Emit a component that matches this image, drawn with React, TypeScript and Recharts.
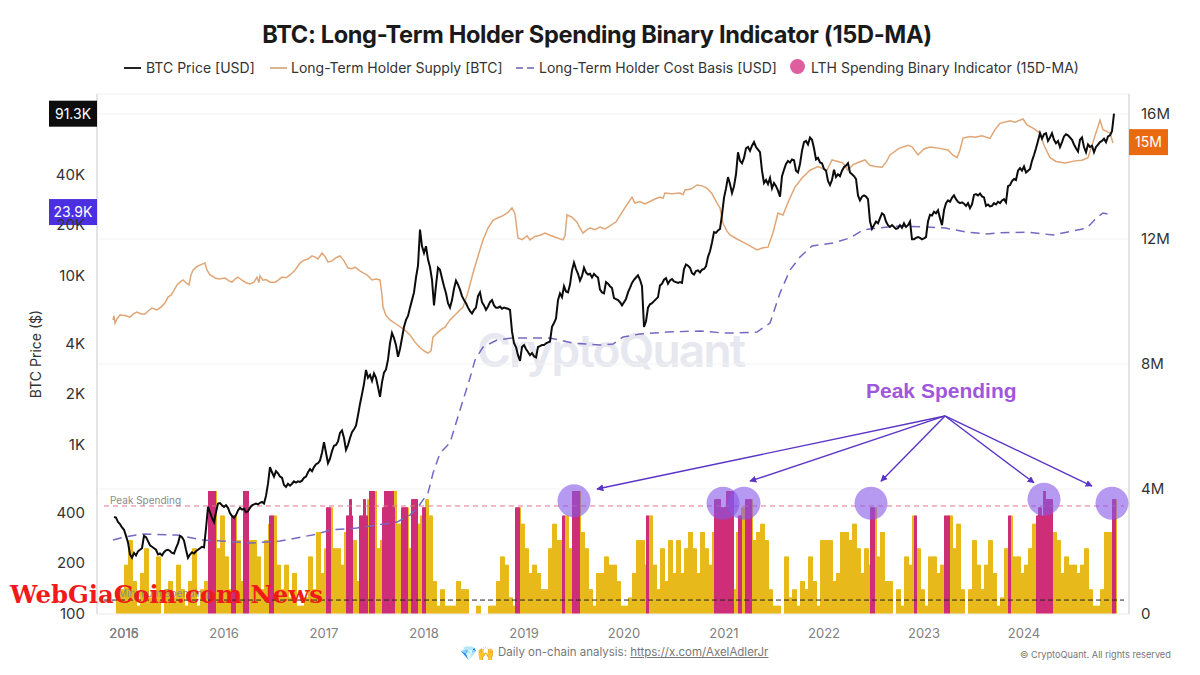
import React from 'react'
import {
  ComposedChart, Bar, Line, XAxis, YAxis, CartesianGrid, ReferenceLine, ReferenceDot,
} from 'recharts'

const FONT = 'Inter, "Noto Sans", sans-serif'

// weekly-ish BTC price, one reading every 0.02 year from 2014.90
const price2014 = [375, 372, 350, 340, 325]
const price2015 = [
  315, 290, 265, 225, 215, 230, 222, 235, 240, 245,
  290, 285, 270, 255, 250, 245, 240, 225, 228, 222,
  232, 238, 240, 236, 230, 228, 245, 262, 290, 285,
  272, 240, 215, 225, 232, 228, 235, 240, 245, 250,
  248, 320, 430, 400, 370, 350, 400, 450, 453, 440,
]
const price2016 = [
  430, 440, 425, 395, 380, 370, 385, 410, 425, 415,
  420, 400, 405, 425, 440, 445, 450, 445, 455, 460,
  450, 500, 590, 740, 690, 650, 700, 680, 650, 640,
  580, 565, 590, 575, 590, 610, 600, 610, 605, 615,
  640, 650, 690, 720, 700, 740, 770, 780, 810, 900,
]
const price2017 = [
  1040, 900, 780, 830, 920, 990, 1000, 1050, 1180, 1220,
  1100, 935, 1000, 1100, 1190, 1240, 1300, 1500, 1750, 2000,
  2300, 2780, 2500, 2600, 2400, 2650, 2500, 2200, 1930, 2350,
  2680, 2800, 3200, 4000, 4600, 4300, 3900, 3330, 3700, 4300,
  5000, 5500, 5800, 6500, 7200, 8000, 9800, 11500, 18800, 15000,
]
const price2018 = [
  13700, 15000, 12500, 11300, 9500, 6700, 8800, 11200, 10900, 9700,
  8700, 7900, 6900, 6500, 7200, 8400, 9400, 8900, 8300, 7600,
  7200, 6900, 6500, 6200, 6000, 6300, 6500, 7600, 8000, 7000,
  6700, 6300, 6600, 7000, 7200, 6700, 6500, 6500, 6600, 6400,
  6500, 6450, 6400, 6300, 4700, 4000, 3800, 3400, 3150, 3800,
]
const price2019 = [
  3900, 3700, 3550, 3400, 3500, 3350, 3300, 3800, 3850, 3900,
  3900, 4000, 4050, 4100, 5000, 5270, 5600, 7200, 7900, 7500,
  8700, 8100, 8000, 8900, 10800, 12000, 11000, 10300, 9400, 10000,
  11200, 10500, 10200, 10300, 9800, 10300, 10000, 9800, 8300, 8000,
  7900, 9200, 9000, 8700, 8500, 7400, 7300, 7200, 7000, 6700,
]
const price2020 = [
  7000, 7300, 8000, 8500, 9100, 9500, 9800, 10100, 9500, 8700,
  5000, 5400, 6500, 6800, 6900, 7100, 7300, 7500, 8800, 9000,
  9500, 9700, 9000, 9400, 9600, 9300, 9200, 9100, 9200, 9100,
  11000, 11700, 11500, 11200, 10400, 10200, 10700, 10800, 10500, 10900,
  11000, 11400, 13000, 14000, 15800, 18200, 18000, 18600, 19000, 23000,
]
const price2021 = [
  29000, 33000, 38500, 35000, 31000, 34000, 40000, 54000, 48000, 46500,
  50000, 57000, 58000, 55000, 59000, 62000, 58000, 56000, 54000, 42000,
  35500, 37000, 35000, 38000, 33000, 35500, 34000, 32000, 29500, 39000,
  42500, 46000, 48000, 47000, 49000, 48500, 42000, 41000, 46000, 55000,
  62000, 63000, 60000, 66000, 64000, 57000, 49000, 50000, 47000, 46500,
]
const price2022 = [
  43000, 42000, 36500, 34500, 37000, 42500, 38500, 40000, 39000, 42000,
  44000, 45000, 46500, 41000, 40000, 39000, 37500, 30000, 28000, 29500,
  30000, 29500, 28500, 21000, 19000, 20000, 21000, 20500, 22000, 23500,
  23000, 21000, 20000, 19500, 20000, 19500, 19000, 19200, 20000, 19300,
  20500, 19500, 20000, 21000, 16500, 16500, 16800, 17000, 16800, 16500,
]
const price2023 = [
  16700, 17000, 21000, 23000, 22800, 24000, 23500, 24500, 22000, 20000,
  24500, 27000, 28000, 27500, 29000, 30000, 28500, 27500, 27000, 27300,
  26800, 26000, 27000, 25200, 26500, 30200, 30500, 30000, 30800, 29600,
  29200, 26000, 26500, 25800, 26000, 27000, 26500, 27500, 27000, 28000,
  28500, 27300, 34000, 34500, 36500, 37500, 37000, 42000, 43500, 42000,
]
const price2024 = [
  44500, 41000, 42000, 43000, 48000, 52000, 57000, 63000, 70000, 65000,
  69000, 70000, 63000, 66000, 70000, 64000, 61000, 63000, 58000, 62000,
  67000, 69000, 68000, 66000, 64000, 60000, 57000, 54500, 64000, 66000,
  58000, 54000, 60000, 58000, 59000, 54000, 58000, 60000, 62000, 63000,
  65000, 62000, 67000, 68000, 72000, 91300,
]
const priceValues = [
  ...price2014, ...price2015, ...price2016, ...price2017, ...price2018, ...price2019,
  ...price2020, ...price2021, ...price2022, ...price2023, ...price2024,
]

// [year, supply in millions of BTC]
const supplySeries = [
  [2014.89, 9.41], [2014.9, 9.55], [2014.91, 9.31], [2014.93, 9.45], [2014.96, 9.57], [2015.01, 9.55], [2015.06, 9.5],
  [2015.1, 9.62], [2015.13, 9.66], [2015.17, 9.6], [2015.21, 9.6], [2015.25, 9.72], [2015.28, 9.79], [2015.33, 9.73],
  [2015.37, 9.82], [2015.41, 9.95], [2015.44, 10.14], [2015.47, 10.2], [2015.49, 10.3], [2015.53, 10.53], [2015.56, 10.62],
  [2015.59, 10.69], [2015.62, 10.6], [2015.65, 10.53], [2015.67, 10.85], [2015.69, 11.0], [2015.73, 11.12], [2015.77, 11.18],
  [2015.81, 11.23], [2015.83, 11.0], [2015.86, 10.85], [2015.89, 10.8], [2015.91, 10.75], [2015.95, 10.72], [2016.01, 10.75],
  [2016.05, 10.66], [2016.08, 10.62], [2016.11, 10.72], [2016.14, 10.78], [2016.18, 10.68], [2016.22, 10.6], [2016.26, 10.56],
  [2016.3, 10.62], [2016.33, 10.78], [2016.35, 10.6], [2016.36, 10.82], [2016.39, 10.68], [2016.42, 10.7], [2016.46, 10.62],
  [2016.51, 10.62], [2016.55, 10.7], [2016.58, 10.78], [2016.62, 10.76], [2016.66, 10.85], [2016.71, 11.0], [2016.76, 11.23],
  [2016.8, 11.32], [2016.84, 11.36], [2016.88, 11.46], [2016.91, 11.42], [2016.94, 11.36], [2016.98, 11.55], [2017.01, 11.44],
  [2017.04, 11.26], [2017.08, 11.3], [2017.12, 11.4], [2017.16, 11.46], [2017.2, 11.3], [2017.24, 11.07], [2017.28, 11.05],
  [2017.31, 11.1], [2017.36, 10.98], [2017.4, 10.9], [2017.43, 10.85], [2017.48, 10.69], [2017.52, 10.72], [2017.56, 10.69],
  [2017.58, 10.2], [2017.59, 9.82], [2017.62, 9.55], [2017.66, 9.41], [2017.72, 9.28], [2017.78, 9.15], [2017.82, 9.05],
  [2017.86, 8.93], [2017.91, 8.7], [2017.96, 8.52], [2018.01, 8.4], [2018.04, 8.35], [2018.07, 8.42], [2018.09, 8.86],
  [2018.13, 8.99], [2018.17, 9.1], [2018.21, 9.18], [2018.26, 9.41], [2018.32, 9.6], [2018.39, 9.82], [2018.44, 10.3],
  [2018.49, 10.91], [2018.54, 11.45], [2018.59, 11.97], [2018.64, 12.35], [2018.69, 12.6], [2018.74, 12.68], [2018.79, 12.75],
  [2018.84, 12.85], [2018.88, 13.0], [2018.91, 12.8], [2018.94, 12.03], [2018.98, 11.98], [2019.03, 12.1], [2019.06, 11.97],
  [2019.11, 12.08], [2019.16, 12.12], [2019.21, 12.19], [2019.26, 12.12], [2019.32, 12.05], [2019.39, 11.97], [2019.41, 12.1],
  [2019.43, 12.77], [2019.48, 12.7], [2019.53, 12.54], [2019.56, 12.35], [2019.59, 12.19], [2019.63, 12.3], [2019.66, 12.35],
  [2019.71, 12.3], [2019.76, 12.38], [2019.81, 12.32], [2019.86, 12.42], [2019.92, 12.55], [2019.98, 12.85], [2020.04, 13.15],
  [2020.08, 13.34], [2020.11, 13.15], [2020.16, 13.2], [2020.21, 13.12], [2020.26, 13.2], [2020.31, 13.28], [2020.36, 13.34],
  [2020.39, 13.3], [2020.41, 13.47], [2020.48, 13.45], [2020.56, 13.47], [2020.59, 13.42], [2020.61, 13.57], [2020.67, 13.6],
  [2020.73, 13.73], [2020.78, 13.7], [2020.83, 13.63], [2020.88, 13.45], [2020.93, 13.15], [2020.96, 13.0], [2020.99, 12.5],
  [2021.03, 12.25], [2021.06, 12.13], [2021.13, 12.0], [2021.19, 11.9], [2021.26, 11.78], [2021.33, 11.65], [2021.39, 11.72],
  [2021.44, 11.74], [2021.49, 12.2], [2021.54, 12.83], [2021.59, 12.77], [2021.65, 13.25], [2021.71, 13.66], [2021.78, 13.95],
  [2021.86, 14.2], [2021.94, 14.32], [2022.03, 14.2], [2022.06, 14.4], [2022.08, 14.53], [2022.14, 14.48], [2022.19, 14.43],
  [2022.24, 14.2], [2022.29, 14.38], [2022.34, 14.45], [2022.41, 14.53], [2022.46, 14.36], [2022.51, 14.32], [2022.58, 14.3],
  [2022.62, 14.45], [2022.66, 14.69], [2022.75, 14.9], [2022.84, 15.0], [2022.88, 14.95], [2022.94, 14.69], [2023.0, 14.88],
  [2023.06, 14.94], [2023.16, 14.9], [2023.24, 14.85], [2023.29, 14.68], [2023.33, 14.6], [2023.36, 14.85], [2023.39, 15.23],
  [2023.46, 15.28], [2023.51, 15.26], [2023.58, 15.3], [2023.66, 15.22], [2023.71, 15.5], [2023.76, 15.7], [2023.86, 15.78],
  [2023.91, 15.74], [2023.99, 15.84], [2024.03, 15.65], [2024.09, 15.55], [2024.16, 15.39], [2024.2, 15.0], [2024.26, 14.6],
  [2024.32, 14.48], [2024.41, 14.43], [2024.51, 14.5], [2024.58, 14.52], [2024.64, 14.6], [2024.69, 15.1], [2024.76, 15.8],
  [2024.79, 15.5], [2024.84, 15.42], [2024.86, 15.4], [2024.89, 15.07],
]

// [year, cost basis in USD]
const costBasisSeries = [
  [2014.89, 274], [2015.01, 286], [2015.19, 297], [2015.53, 293], [2015.79, 274], [2016.13, 267], [2016.26, 263],
  [2016.56, 270], [2016.93, 297], [2017.06, 314], [2017.33, 323], [2017.73, 350], [2017.86, 385], [2017.94, 430],
  [2018.04, 520], [2018.09, 680], [2018.16, 895], [2018.26, 1030], [2018.36, 1611], [2018.46, 2490], [2018.51, 3180],
  [2018.59, 3800], [2018.73, 4180], [2018.89, 4300], [2019.26, 4300], [2019.49, 4010], [2019.76, 3900], [2019.89, 3960],
  [2019.99, 4355], [2020.16, 4540], [2020.43, 4660], [2020.76, 4730], [2020.99, 4600], [2021.13, 4600], [2021.33, 4660],
  [2021.46, 5270], [2021.48, 5720], [2021.56, 7940], [2021.66, 10850], [2021.76, 12950], [2021.88, 15050], [2022.09, 15670],
  [2022.26, 16800], [2022.39, 18700], [2022.53, 19230], [2022.76, 19770], [2023.03, 19500], [2023.21, 19230], [2023.43, 18200],
  [2023.63, 17730], [2023.76, 18000], [2024.03, 18200], [2024.29, 17490], [2024.63, 19230], [2024.73, 22200], [2024.79, 23600],
  [2024.89, 22960],
]

// spending indicator in 15ths, one reading every 0.04 year from 2014.92
const levels2015 = [3, 3, 6, 9, 4, 1, 5, 8, 2, 2, 7, 0, 3, 4, 2, 6, 3, 1, 4, 8, 1, 3, 4, 10, 15, 8]
const levels2016 = [12, 7, 3, 12, 9, 4, 15, 9, 9, 7, 3, 9, 11, 12, 6, 3, 6, 2, 5, 1, 1, 2, 7, 3, 10]
const levels2017 = [5, 8, 13, 8, 8, 6, 10, 14, 9, 4, 13, 14, 10, 15, 8, 9, 15, 15, 15, 11, 11, 13, 8, 14, 11]
const levels2018 = [12, 14, 12, 4, 1, 3, 1, 1, 1, 4, 3, 3, 0, 0, 1, 0, 0, 1, 1, 4, 7, 6, 2, 1, 13]
const levels2019 = [11, 8, 5, 6, 5, 3, 3, 8, 11, 9, 9, 12, 8, 15, 15, 10, 8, 3, 1, 5, 5, 7, 6, 6, 4]
const levels2020 = [1, 1, 2, 5, 9, 9, 6, 12, 6, 3, 8, 4, 9, 5, 9, 5, 8, 10, 8, 5, 10, 8, 6, 10, 14]
const levels2021 = [13, 14, 15, 3, 10, 13, 10, 14, 9, 10, 11, 9, 3, 1, 1, 0, 7, 2, 3, 1, 4, 3, 7, 4, 1]
const levels2022 = [9, 9, 9, 4, 5, 10, 10, 9, 11, 8, 5, 8, 6, 13, 7, 10, 4, 4, 0, 3, 1, 7, 6, 12, 8]
const levels2023 = [3, 1, 7, 7, 5, 6, 12, 12, 8, 11, 3, 0, 3, 9, 6, 3, 6, 9, 5, 1, 2, 8, 12, 7, 7]
const levels2024 = [5, 6, 8, 11, 13, 13, 15, 14, 10, 9, 5, 7, 6, 6, 5, 6, 8, 3, 1, 1, 3, 10, 10, 14]
const indicatorLevels = [
  ...levels2015, ...levels2016, ...levels2017, ...levels2018, ...levels2019,
  ...levels2020, ...levels2021, ...levels2022, ...levels2023, ...levels2024,
]

// periods when long-term holders were spending hard: [from, to, level]
const spendingSpans = [
  [2015.84, 2015.9, 15], [2016.07, 2016.1, 12], [2016.19, 2016.23, 15], [2016.45, 2016.48, 12], [2017.02, 2017.05, 13],
  [2017.22, 2017.27, 12], [2017.25, 2017.26, 14], [2017.35, 2017.42, 12], [2017.39, 2017.4, 14], [2017.45, 2017.49, 15],
  [2017.58, 2017.6, 13], [2017.6, 2017.68, 15], [2017.68, 2017.69, 13], [2017.77, 2017.82, 13], [2017.87, 2017.92, 14],
  [2017.98, 2018.0, 13], [2018.91, 2018.94, 13], [2019.38, 2019.39, 12], [2019.48, 2019.54, 15], [2020.22, 2020.23, 12],
  [2020.9, 2020.95, 14], [2020.95, 2021.02, 13], [2021.02, 2021.08, 15], [2021.14, 2021.16, 12], [2021.21, 2021.26, 14],
  [2022.46, 2022.49, 13], [2022.9, 2022.91, 12], [2023.2, 2023.21, 12], [2023.23, 2023.24, 12], [2023.84, 2023.85, 12],
  [2024.12, 2024.27, 12], [2024.14, 2024.16, 13], [2024.19, 2024.2, 15], [2024.21, 2024.27, 14], [2024.88, 2024.9, 14],
]

// the six highlighted peaks: [year, level]
const peakMarkers = [
  [2019.5, 13.8], [2020.99, 13.5], [2021.2, 13.5], [2022.47, 13.5], [2024.2, 14], [2024.88, 13.5],
]
// arrows run from the "Peak Spending" caption to these [year, level] points
const arrowOrigin = [2023.21, 24.15]
const arrowTargets = [
  [2019.73, 15.24], [2021.26, 16.2], [2022.57, 16.2], [2024.1, 16.0], [2024.68, 15.6],
]

const priceTicks = [100, 200, 400, 1000, 2000, 4000, 10000, 20000, 40000]
const supplyTicks = [0, 4, 8, 12, 16]
const yearTicks = [2015, 2016, 2017, 2018, 2019, 2020, 2021, 2022, 2023, 2024]

const priceTable = priceValues.map((price, i) => ({ year: 2014.9 + i * 0.02, price }))
const supplyTable = supplySeries.map(([year, supply]) => ({ year, supply }))
const costTable = costBasisSeries.map(([year, cost]) => ({ year, cost }))

const barTable = Array.from({ length: indicatorLevels.length * 4 }, (_, i) => {
  const year = 2014.92 + i * 0.01
  let pink = 0
  for (const [from, to, level] of spendingSpans) {
    if (year >= from - 0.004 && year <= to + 0.004) pink = Math.max(pink, level)
  }
  return { year, yellow: pink ? 0 : indicatorLevels[Math.floor(i / 4)], pink }
})

const formatPrice = (v: number) => (v >= 1000 ? `${v / 1000}K` : `${v}`)

// snap the 1px-step bars to whole pixels so neighbours don't blur into each other
const SolidBar = ({ x, y, height, fill }: any) =>
  height > 0 ? <rect x={Math.round(x)} y={y} width={2} height={height} fill={fill} /> : null

const Badge = ({ cx, cy, w, side, fill, text }: any) => {
  const x = side === 'left' ? cx - w : cx
  return (
    <g>
      <rect x={x} y={cy - 13} width={w} height={26} fill={fill} />
      <text x={x + w / 2} y={cy + 5} textAnchor="middle" fontSize={14} fill="#fff" fontFamily={FONT}>{text}</text>
    </g>
  )
}

const YearTick = ({ x, y, payload }: any) => (
  <g fontSize={13} fill="#808080" fontFamily={FONT} textAnchor="middle">
    <text x={x} y={y + 16}>{payload.value}</text>
    {payload.value === 2015 && <text x={x} y={y + 16}>2016</text>}
  </g>
)

const legendText: React.CSSProperties = { position: 'absolute', top: 59, fontSize: 14, color: '#333', whiteSpace: 'nowrap', lineHeight: '18px' }
const overlayText: React.CSSProperties = { position: 'absolute', whiteSpace: 'nowrap', fontFamily: FONT }

export default function App() {
  return (
    <div style={{ position: 'absolute', left: 0, top: 0, width: 1200, height: 675, background: '#fff', overflow: 'hidden', fontFamily: FONT }}>
      <div style={{ ...overlayText, left: 477, top: 322, fontSize: 46, fontWeight: 600, color: '#e6e7ef', letterSpacing: -1.8 }}>CryptoQuant</div>

      <div style={{ ...overlayText, left: 0, width: 1194, textAlign: 'center', top: 20, fontSize: 23.6, fontWeight: 700, color: '#1a1a1a', letterSpacing: -0.35 }}>
        BTC: Long-Term Holder Spending Binary Indicator (15D-MA)
      </div>

      <div style={{ position: 'absolute', left: 0, top: 0 }}>
        <ComposedChart width={1200} height={675} data={barTable} margin={{ top: 94, right: 0, bottom: 0, left: 0 }} barCategoryGap={0} barGap={0}>
          <defs>
            <marker id="arrowHead" viewBox="0 0 10 10" refX="9" refY="5" markerWidth="7" markerHeight="7" markerUnits="userSpaceOnUse" orient="auto">
              <path d="M0 0 L10 5 L0 10 Z" fill="#5a34c6" />
            </marker>
          </defs>
          <CartesianGrid yAxisId="supply" vertical={false} stroke="#f3f3f3" />
          <XAxis
            dataKey="year" type="number" domain={[2014.73, 2025.05]} ticks={yearTicks} allowDataOverflow
            height={61} tickLine={false} axisLine={{ stroke: '#f0f0f0' }} tick={<YearTick />}
          />
          <YAxis
            yAxisId="price" orientation="left" scale="log" domain={[100, 119400]} allowDataOverflow
            ticks={priceTicks} tickFormatter={formatPrice} width={97} tickLine={false} tickMargin={6}
            axisLine={{ stroke: '#c9c9cf' }} tick={{ fontSize: 15, fill: '#333', fontFamily: FONT }}
            label={{ value: 'BTC Price ($)', angle: -90, position: 'insideLeft', offset: 36, style: { fontSize: 14, fill: '#333', textAnchor: 'middle', fontFamily: FONT } }}
          />
          <YAxis
            yAxisId="supply" orientation="right" domain={[0, 16.64]} allowDataOverflow
            ticks={supplyTicks} tickFormatter={(v: number) => (v ? `${v}M` : '0')} width={71} tickLine={false} tickMargin={6}
            axisLine={{ stroke: '#c9c9cf' }} tick={{ fontSize: 15, fill: '#333', fontFamily: FONT }}
          />
          <YAxis yAxisId="level" orientation="right" hide width={0} domain={[0, 63.41]} allowDataOverflow />

          <Bar yAxisId="level" dataKey="yellow" stackId="spend" fill="#e8b91a" shape={<SolidBar />} isAnimationActive={false} />
          <Bar yAxisId="level" dataKey="pink" stackId="spend" fill="#ce2e78" shape={<SolidBar />} isAnimationActive={false} />

          <ReferenceLine yAxisId="level" segment={[{ x: 2014.8, y: 13.17 }, { x: 2025.0, y: 13.17 }]} stroke="#e0768c" strokeDasharray="5 4" />
          <ReferenceLine yAxisId="level" segment={[{ x: 2014.8, y: 1.7 }, { x: 2025.0, y: 1.7 }]} stroke="#222" strokeDasharray="5 3" />

          <Line yAxisId="price" data={costTable} dataKey="cost" stroke="#7568c0" strokeWidth={1.5} strokeDasharray="9 6" dot={false} isAnimationActive={false} />
          <Line yAxisId="supply" data={supplyTable} dataKey="supply" stroke="#e0a676" strokeWidth={1.5} dot={false} isAnimationActive={false} />
          <Line yAxisId="price" data={priceTable} dataKey="price" stroke="#0c0c0c" strokeWidth={2} dot={false} isAnimationActive={false} />

          {peakMarkers.map(([year, level]) => (
            <ReferenceDot key={year} yAxisId="level" x={year} y={level} r={16.5} fill="#8657e8" fillOpacity={0.6} stroke="none" />
          ))}
          {arrowTargets.map(([year, level]) => (
            <ReferenceLine
              key={year} yAxisId="level" stroke="#5a34c6" strokeWidth={1.4} markerEnd="url(#arrowHead)"
              segment={[{ x: arrowOrigin[0], y: arrowOrigin[1] }, { x: year, y: level }]}
            />
          ))}

          <ReferenceDot yAxisId="price" x={2014.73} y={91300} ifOverflow="visible" shape={(p: any) => <Badge {...p} w={48} side="left" fill="#0d0d0d" text="91.3K" />} />
          <ReferenceDot yAxisId="price" x={2014.73} y={23900} ifOverflow="visible" shape={(p: any) => <Badge {...p} w={48} side="left" fill="#4a30e0" text="23.9K" />} />
          <ReferenceDot yAxisId="supply" x={2025.05} y={15.1} ifOverflow="visible" shape={(p: any) => <Badge {...p} w={39} side="right" fill="#ea6a12" text="15M" />} />
        </ComposedChart>
      </div>

      {/* legend */}
      <div style={{ position: 'absolute', left: 124, top: 67, width: 17, height: 2, background: '#222' }} />
      <div style={{ ...legendText, left: 146 }}>BTC Price [USD]</div>
      <div style={{ position: 'absolute', left: 270, top: 67, width: 17, height: 2, background: '#dcb48e' }} />
      <div style={{ ...legendText, left: 291 }}>Long-Term Holder Supply [BTC]</div>
      <div style={{ position: 'absolute', left: 516, top: 67, width: 7, height: 2, background: '#8f88c8' }} />
      <div style={{ position: 'absolute', left: 527, top: 67, width: 7, height: 2, background: '#8f88c8' }} />
      <div style={{ ...legendText, left: 539 }}>Long-Term Holder Cost Basis [USD]</div>
      <div style={{ position: 'absolute', left: 790, top: 59, width: 15, height: 15, borderRadius: 8, background: '#de5f9e' }} />
      <div style={{ ...legendText, left: 811 }}>LTH Spending Binary Indicator (15D-MA)</div>

      {/* annotations */}
      <div style={{ ...overlayText, left: 866, top: 379, fontSize: 21, fontWeight: 700, color: '#9f57db', fontFamily: '"Liberation Sans", sans-serif' }}>Peak Spending</div>
      <div style={{ ...overlayText, left: 110, top: 494, fontSize: 10, color: '#8a8a8a' }}>Peak Spending</div>
      <div style={{ ...overlayText, left: 118, top: 587, fontSize: 10, color: '#8a8a8a' }}>Minimum Spending</div>

      {/* footer */}
      <div style={{ ...overlayText, left: 460, top: 644, fontSize: 14 }}>💎🙌</div>
      <div style={{ ...overlayText, left: 498, top: 645, fontSize: 11.5, color: '#777' }}>
        Daily on-chain analysis: <span style={{ textDecoration: 'underline' }}>https://x.com/AxelAdlerJr</span>
      </div>
      <div style={{ ...overlayText, left: 1020, top: 649, fontSize: 9.2, color: '#777' }}>© CryptoQuant. All rights reserved</div>

      <div style={{ ...overlayText, left: 10, top: 580, fontSize: 24.4, fontWeight: 700, color: '#f01a1a', fontFamily: '"DejaVu Serif", serif' }}>WebGiaCoin.com News</div>
    </div>
  )
}
